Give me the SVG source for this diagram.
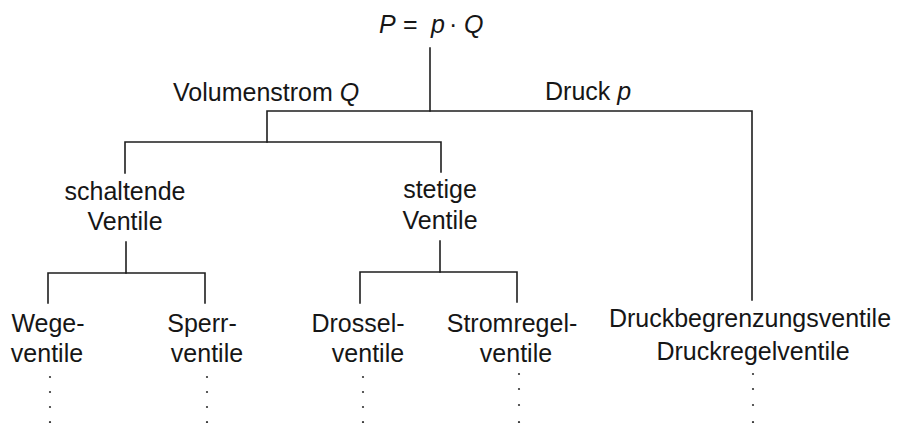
<svg xmlns="http://www.w3.org/2000/svg" width="898" height="423" viewBox="0 0 898 423">
  <style>
    text { font-family: "Liberation Sans", Arial, sans-serif; font-size: 25px; fill: #161616; }
    .m { text-anchor: middle; }
    .i { font-style: italic; }
    .ln { stroke: #1e1e1e; stroke-width: 1.6; fill: none; stroke-linecap: square; }
    .dot { fill: #333; }
  </style>
  <rect width="898" height="423" fill="#ffffff"/>

  <g id="connectors" class="ln">
    <path d="M430,48 V111"/>
    <path d="M267,142 V111 H752 V300"/>
    <path d="M125,173 V142 H441 V172"/>
    <path d="M126,242 V273"/>
    <path d="M48,303 V273 H205 V303"/>
    <path d="M440,241 V272"/>
    <path d="M360,303 V272 H517 V302"/>
  </g>

  <g id="root">
    <text x="379" y="33" class="i">P</text>
    <text x="403" y="33">=</text>
    <text x="431" y="33" class="i">p</text>
    <text x="449" y="33">·</text>
    <text x="464" y="33" class="i">Q</text>
  </g>

  <g id="label-volumenstrom">
    <text x="173" y="101">Volumenstrom <tspan class="i">Q</tspan></text>
  </g>
  <g id="label-druck">
    <text x="545" y="100">Druck <tspan class="i">p</tspan></text>
  </g>

  <g id="schaltende">
    <text x="125" y="200" class="m">schaltende</text>
    <text x="125" y="230" class="m">Ventile</text>
  </g>
  <g id="stetige">
    <text x="440" y="198" class="m">stetige</text>
    <text x="440" y="229" class="m">Ventile</text>
  </g>

  <g id="wegeventile">
    <text x="48" y="332" class="m">Wege-</text>
    <text x="47" y="362" class="m">ventile</text>
  </g>
  <g id="sperrventile">
    <text x="202" y="332" class="m">Sperr-</text>
    <text x="207" y="362" class="m">ventile</text>
  </g>
  <g id="drosselventile">
    <text x="358" y="332" class="m">Drossel-</text>
    <text x="368" y="362" class="m">ventile</text>
  </g>
  <g id="stromregelventile">
    <text x="512" y="332" class="m">Stromregel-</text>
    <text x="516" y="362" class="m">ventile</text>
  </g>
  <g id="druckventile">
    <text x="750" y="327" class="m">Druckbegrenzungsventile</text>
    <text x="753" y="360" class="m">Druckregelventile</text>
  </g>

  <g id="continuation-dots" class="dot">
    <circle cx="50" cy="377" r="1.1"/><circle cx="50" cy="392" r="1.1"/><circle cx="50" cy="407" r="1.1"/><circle cx="50" cy="422" r="1.1"/>
    <circle cx="207" cy="377" r="1.1"/><circle cx="207" cy="392" r="1.1"/><circle cx="207" cy="407" r="1.1"/><circle cx="207" cy="422" r="1.1"/>
    <circle cx="363" cy="377" r="1.1"/><circle cx="363" cy="392" r="1.1"/><circle cx="363" cy="407" r="1.1"/><circle cx="363" cy="422" r="1.1"/>
    <circle cx="519" cy="374" r="1.1"/><circle cx="519" cy="389" r="1.1"/><circle cx="519" cy="405" r="1.1"/><circle cx="519" cy="422" r="1.1"/>
    <circle cx="753" cy="374" r="1.1"/><circle cx="753" cy="389" r="1.1"/><circle cx="753" cy="405" r="1.1"/><circle cx="753" cy="422" r="1.1"/>
  </g>
</svg>
